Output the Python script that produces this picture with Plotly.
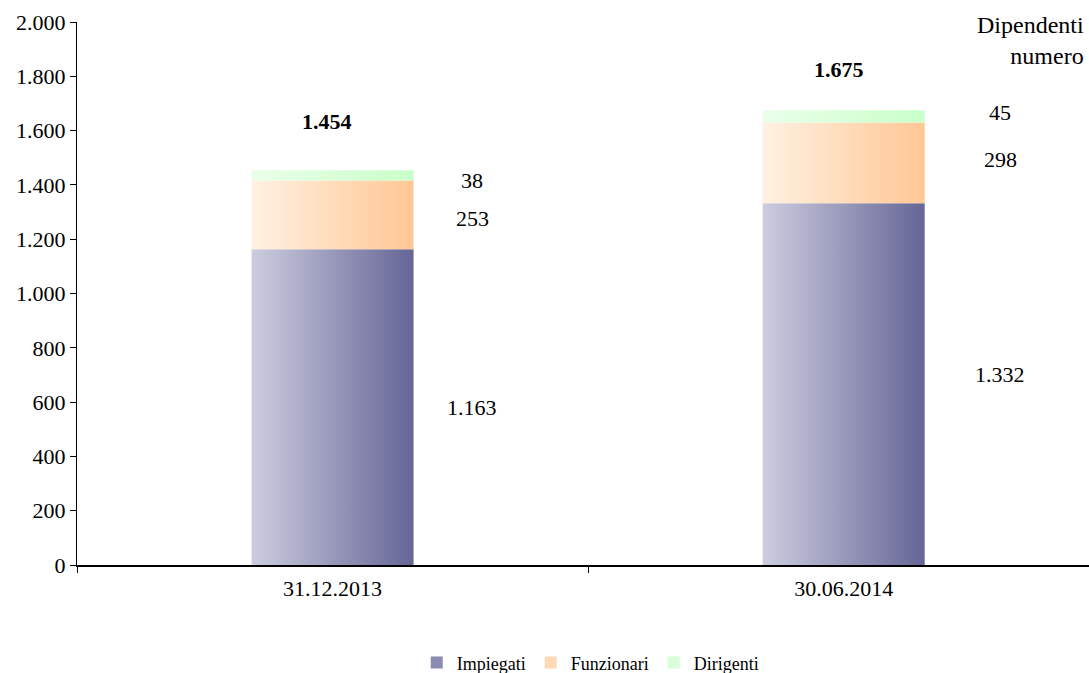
import plotly.graph_objects as go

# Organico per data di riferimento
dates = ["31.12.2013", "30.06.2014"]
impiegati = [1163, 1332]
funzionari = [253, 298]
dirigenti = [38, 45]
totals = [1454, 1675]
series_names = ["Impiegati", "Funzionari", "Dirigenti"]
y_tick_values = [0, 200, 400, 600, 800, 1000, 1200, 1400, 1600, 1800, 2000]

# Styling
FONT = "Times New Roman, Liberation Serif, serif"
gradients = {
    "Impiegati": ("#CDCDDF", "#656597"),
    "Funzionari": ("#FFF1E2", "#FFC794"),
    "Dirigenti": ("#EAFFEA", "#C9FFC9"),
}
legend_colors = {"Impiegati": "#8C8CB2", "Funzionari": "#FFD9B5", "Dirigenti": "#D8FFD8"}
BAR_WIDTH = 0.317
label_offset = [0.273, 0.306]
# vertical nudges (px) of the segment labels, per bar and per series
label_nudge = [[0, -4, -5], [10, 3, 4]]
total_shift = [34, 26]

series_values = [impiegati, funzionari, dirigenti]

fig = go.Figure()

# Stacked bars drawn as filled rectangles with a horizontal gradient
for i in range(len(dates)):
    base = 0
    for k, (name, vals) in enumerate(zip(series_names, series_values)):
        v = vals[i]
        x0, x1 = i - BAR_WIDTH / 2, i + BAR_WIDTH / 2
        c0, c1 = gradients[name]
        fig.add_trace(go.Scatter(
            x=[x0, x1, x1, x0, x0],
            y=[base, base, base + v, base + v, base],
            mode="lines",
            line=dict(width=0),
            fill="toself",
            fillgradient=dict(type="horizontal", colorscale=[[0, c0], [1, c1]]),
            showlegend=False,
            hoverinfo="skip",
        ))
        # value label beside the segment
        fig.add_annotation(
            x=i + label_offset[i], y=base + v / 2, xref="x", yref="y",
            yshift=label_nudge[i][k],
            text=f"{v:,}".replace(",", "."), showarrow=False,
            font=dict(family=FONT, size=22, color="black"),
        )
        base += v
    fig.add_annotation(
        x=i - 0.01, y=totals[i], xref="x", yref="y", yanchor="bottom",
        yshift=total_shift[i],
        text=f"<b>{totals[i]:,}</b>".replace(",", "."), showarrow=False,
        font=dict(family=FONT, size=22, color="black"),
    )

# Legend entries
for name in series_names:
    fig.add_trace(go.Bar(
        x=[0], y=[0], name=name, marker=dict(color=legend_colors[name], line=dict(width=0)),
        showlegend=True, hoverinfo="skip",
    ))

fig.add_annotation(
    x=1, y=1, xref="paper", yref="paper", xanchor="right", yanchor="top",
    xshift=-3, yshift=12, align="right",
    text="Dipendenti<br>numero", showarrow=False,
    font=dict(family=FONT, size=24, color="black"),
)

fig.update_layout(
    width=1089, height=673,
    margin=dict(l=77, r=0, t=22, b=108),
    paper_bgcolor="white", plot_bgcolor="white",
    separators=",.",
    font=dict(family=FONT, size=22, color="black"),
    showlegend=True,
    legend=dict(
        orientation="h", xref="container", yref="container",
        x=0.542, y=0.015, xanchor="center", yanchor="middle",
        font=dict(family=FONT, size=18, color="black"),
        itemwidth=30, itemclick=False, tracegroupgap=0,
    ),
    xaxis=dict(
        range=[-0.5, 1.48], tickvals=[0, 1], ticktext=dates,
        showgrid=False, zeroline=False, showline=True, linecolor="black", linewidth=2,
        ticks="", ticklabelstandoff=3, automargin=False,
        tickfont=dict(size=22),
        minor=dict(tickvals=[-0.5, 0.5, 1.5], ticks="outside", ticklen=6, tickcolor="black"),
        fixedrange=True,
    ),
    yaxis=dict(
        range=[0, 2000], tickvals=y_tick_values, tickformat=",d",
        showgrid=False, zeroline=False, showline=True, linecolor="black", linewidth=1,
        ticks="outside", ticklen=6, tickcolor="black", automargin=False,
        fixedrange=True,
    ),
)

fig.write_html("out.html")
